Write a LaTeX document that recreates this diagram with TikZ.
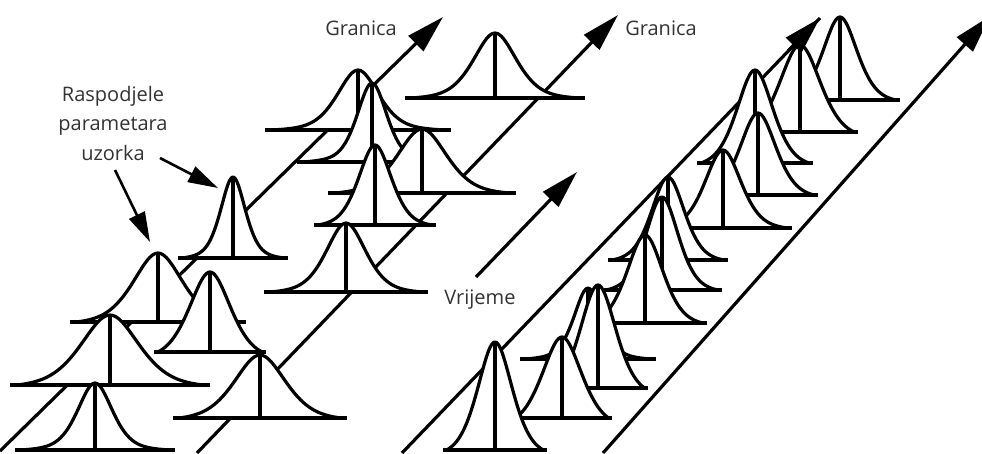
\documentclass[tikz,border=0pt]{standalone}
\usepackage{fontspec}
\newfontfamily\labelfont{Open Sans}
\usetikzlibrary{arrows.meta}

\tikzset{
  bell/.style={line width=3.2pt, line join=round, fill=white},
  timeline/.style={line width=3.2pt, -{Triangle[length=38pt,width=21pt]}},
  pointer/.style={line width=2.6pt, -{Triangle[length=30pt,width=17pt]}},
  lbl/.style={font=\fontsize{20}{29.5}\selectfont\labelfont, text=black!80, inner sep=0pt},
}

\begin{document}
\begin{tikzpicture}[x=1pt,y=-1pt]
  \useasboundingbox (0,0) rectangle (982,453);
  \clip (0,0) rectangle (982,453);

  % time lines and boundaries
  \coordinate (a0) at (0,451);     \coordinate (a1) at (443,17);
  \coordinate (b0) at (197,453);   \coordinate (b1) at (618,15);
  \coordinate (t0) at (476,277);   \coordinate (t1) at (577,172);
  \coordinate (c0) at (402,453);   \coordinate (c1) at (820,18);
  \coordinate (cm) at (788,51);
  \coordinate (d0) at (603,453);   \coordinate (d1) at (990,16);
  \draw[timeline] (a0) -- (a1);
  \draw[timeline] (b0) -- (b1);
  \draw[timeline] (t0) -- (t1);
  \draw[line width=3.2pt] (c0) -- (c1);
  \draw[timeline] (d0) -- (d1);

  % distributions: centre / baseline / peak / half width at half height / half baseline
  \foreach \cx/\by/\pk/\hw/\w in {
      495/98/33/26/90, 358/130/70/25/93, 372/162/83/18/75, 422/193/129/30/94,
      375/225/145/20/61, 233/258/177/15/55, 346/292/223/24/82, 158/322/253/30/88,
      210/352/272/25/56, 110/385/315/35/100, 260/418/355/31/87, 95/450/383/21/80,
      840/100/17/21/60, 800/132/45/25/58, 755/163/70/22/58, 758/195/113/22/60,
      723/228/150/22/69, 668/260/177/20/60, 662/290/197/20/60, 645/323/235/22/62,
      588/359/288/17/68, 598/388/285/22/50, 562/418/337/24/50, 495/450/342/21/52}{
    \pgfmathsetmacro\W{0.93*\w}
    \pgfmathsetmacro\e{0.5*exp(-0.693*(\W*\W)/(\hw*\hw))+0.5/(1+(\W*\W)/(\hw*\hw))}
    \filldraw[bell] plot[domain=-\W:\W, samples=61, smooth]
      ({\cx+\x}, {\by-(\by-\pk)*(0.5*exp(-0.693*(\x*\x)/(\hw*\hw))+0.5/(1+(\x*\x)/(\hw*\hw))-\e)/(1-\e)}) -- cycle;
    \draw[bell] (\cx-\w,\by) -- (\cx+\w,\by) (\cx,\by) -- (\cx,\pk);
  }
  \draw[timeline] (cm) -- (c1);

  % labels
  \node[lbl, anchor=base] (granica1) at (361,35) {Granica};
  \node[lbl, anchor=base] (granica2) at (661,35) {Granica};
  \node[lbl, anchor=base] (vrijeme) at (480,304) {Vrijeme};
  \node[lbl, align=center, anchor=north] (raspodjele) at (113,86)
    {Raspodjele\\parametara\\uzorka};

  \coordinate (p1) at (115,170);  \coordinate (q1) at (150,242);
  \coordinate (p2) at (160,158);  \coordinate (q2) at (218,188);
  \draw[pointer] (p1) -- (q1);
  \draw[pointer] (p2) -- (q2);
\end{tikzpicture}
\end{document}
